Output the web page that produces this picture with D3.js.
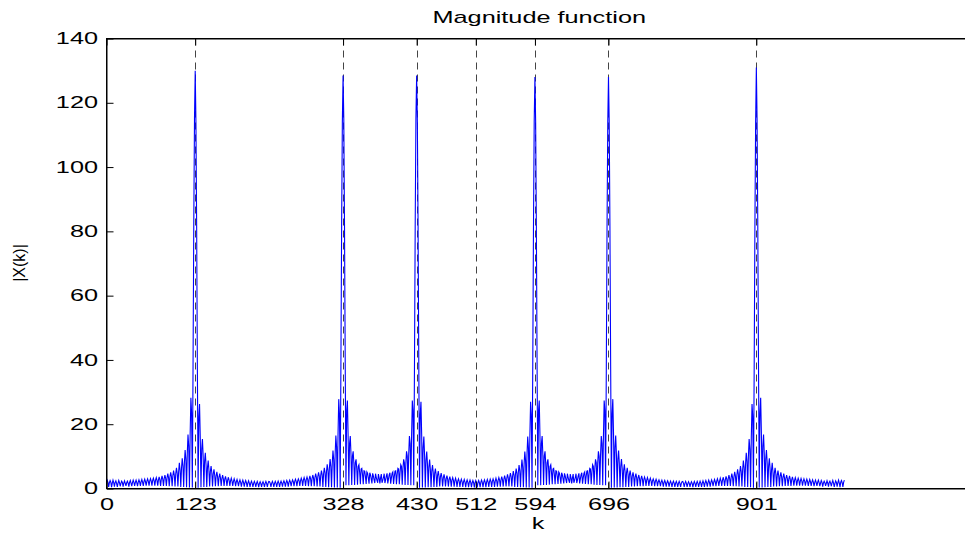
<!DOCTYPE html>
<html>
<head>
<meta charset="utf-8">
<script src="https://cdn.jsdelivr.net/npm/d3@7"></script>
<style>
body{margin:0;background:#fff;}
.canvas{width:965px;height:536px;}
</style>
</head>
<body>
<div class="canvas"></div>
<script>
/* |X(k)| of a 1024 point DFT.
   the peaks are kept apart, seg0 starts at k=0 and every other
   segment starts on the bin right after a peak */
var peakK = [123,328,430,594,696,901];
var peakVal = [130,128.5,128.5,128,128,131];

var seg0 = [2.0,2.6,1.9,0.5,1.8,2.5,2.0,0.4,1.7,2.6,1.8,0.6,1.9,2.4,1.6,0.5,1.7,2.5,1.8,0.7,
    1.6,2.3,1.9,0.6,1.7,2.4,1.6,0.8,1.8,2.3,1.7,0.6,1.9,2.5,1.7,0.7,1.8,2.6,1.9,0.8,
    1.9,2.6,1.8,0.7,2.0,2.7,2.0,0.8,2.1,2.8,2.0,0.8,2.2,2.9,2.1,0.9,2.3,3.0,2.2,0.9,
    2.4,3.1,2.3,0.9,2.5,3.2,2.4,0.9,2.6,3.4,2.5,0.9,2.7,3.6,2.7,0.8,2.9,3.9,2.9,0.8,
    3.1,4.2,3.2,0.8,3.4,4.6,3.4,0.7,3.7,5.0,3.8,0.7,4.0,5.6,4.2,0.6,4.6,6.4,4.8,0.6,
    5.2,8.0,5.7,0.5,6.3,9.4,7.0,0.5,8.0,12.0,9.2,0.4,10.8,16.8,13.1,0.3,17.0,28.2,23.5,0.3,
    38.5,82,115];
var seg1 = [114,81,37.5,0.2,22.3,26.3,15.9,0.4,12.3,15.4,10.1,0.5,8.5,11.1,7.4,0.5,6.5,8.7,5.8,0.6,
    5.3,7.0,4.9,0.6,4.5,6.0,4.2,0.7,3.9,5.2,3.7,0.7,3.5,4.6,3.3,0.8,3.1,4.2,3.0,0.8,
    2.9,3.8,2.7,0.8,2.6,3.5,2.5,0.8,2.4,3.2,2.3,0.8,2.2,3.0,2.2,0.7,2.1,2.8,2.0,0.7,
    2.0,2.7,1.9,0.6,1.9,2.6,1.8,0.6,1.8,2.5,1.8,0.5,1.7,2.4,1.7,0.5,1.7,2.3,1.6,0.5,
    1.6,2.2,1.6,0.5,1.6,2.2,1.5,0.4,1.6,2.1,1.5,0.5,1.6,2.1,1.5,0.5,1.6,2.2,1.6,0.5,1.6,2.2,
    2.1,1.6,0.5,1.6,2.2,1.6,0.5,1.6,2.2,1.6,0.5,1.7,2.3,1.7,0.5,1.7,2.3,1.7,0.6,1.8,
    2.4,1.8,0.6,1.8,2.5,1.9,0.6,1.9,2.6,2.0,0.7,2.0,2.7,2.1,0.7,2.2,2.9,2.2,0.7,2.3,
    3.0,2.4,0.8,2.4,3.2,2.5,0.8,2.6,3.4,2.6,0.8,2.8,3.6,2.8,0.7,2.9,3.9,3.0,0.7,3.1,
    4.2,3.3,0.7,3.4,4.6,3.5,0.6,3.7,5.0,3.9,0.6,4.0,5.6,4.3,0.5,4.6,6.4,4.9,0.5,5.2,
    7.5,5.7,0.4,6.2,9.2,6.9,0.4,7.8,11.8,9.0,0.3,10.6,16.5,12.9,0.3,16.7,27.8,23.2,0.2,38,
    81.5,114];
var seg2 = [115,81.5,38,1.0,24.2,27.4,16.4,1.0,14.0,16.3,10.5,1.1,10.1,11.6,7.7,1.1,8.1,9.1,6.1,1.2,
    6.9,7.4,5.0,1.3,6.1,6.3,4.3,1.3,5.5,5.4,3.7,1.4,5.2,4.8,3.3,1.5,4.9,4.3,3.0,1.6,
    4.7,3.9,2.7,1.7,4.6,3.5,2.5,1.8,4.5,3.3,
    1.6,
    3.3,4.5,1.8,2.5,3.5,4.6,1.7,2.7,3.9,4.7,
    1.6,3.0,4.3,4.9,1.5,3.3,4.8,5.2,1.4,3.7,5.4,5.5,1.3,4.3,6.3,6.1,1.3,5.0,7.4,6.9,
    1.2,6.1,9.1,8.1,1.1,7.7,11.6,10.1,1.1,10.5,16.3,14.0,1.0,16.4,27.4,24.2,1.0,38,81.5,115];
var seg3 = [114,81.5,38,0.2,23.0,27.0,16.4,0.3,12.7,16.2,10.4,0.3,8.8,11.5,7.6,0.4,6.7,9.0,6.0,0.4,
    5.5,7.3,5.0,0.5,4.7,6.2,4.4,0.5,4.1,5.4,3.8,0.6,3.7,4.8,3.5,0.6,3.3,4.4,3.2,0.6,
    3.0,4.0,2.9,0.6,2.8,3.7,2.7,0.6,2.6,3.4,2.5,0.6,2.4,3.2,2.3,0.5,2.3,3.0,2.2,0.5,
    2.2,2.9,2.1,0.5,2.1,2.8,2.0,0.4,2.0,2.7,1.9,0.4,1.9,2.6,1.9,0.4,1.8,2.5,1.8,0.3,1.8,
    2.5,
    1.8,0.3,1.8,2.5,1.8,0.4,1.9,2.6,1.9,0.4,1.9,2.7,2.0,0.4,2.0,2.8,2.1,0.5,2.1,2.9,2.2,
    0.5,2.2,3.0,2.3,0.5,2.3,3.2,2.4,0.6,2.5,3.4,2.6,0.6,2.7,3.7,2.8,0.6,2.9,4.0,3.0,
    0.6,3.2,4.4,3.3,0.6,3.5,4.8,3.7,0.6,3.8,5.4,4.1,0.5,4.4,6.2,4.7,0.5,5.0,7.3,5.5,
    0.4,6.0,9.0,6.7,0.4,7.6,11.5,8.8,0.3,10.4,16.2,12.7,0.3,16.4,27.0,23.0,0.2,38,81.5,114];
var seg4 = [114,81.5,38,1.0,24.2,27.4,16.4,1.0,14.0,16.3,10.5,1.1,10.1,11.6,7.7,1.1,8.1,9.1,6.1,1.2,
    6.9,7.4,5.0,1.3,6.1,6.3,4.3,1.3,5.5,5.4,3.7,1.4,5.2,4.8,3.3,1.5,4.9,4.3,3.0,1.6,
    4.7,3.9,2.7,1.7,4.6,3.5,2.5,1.8,4.5,3.3,
    1.6,
    3.3,4.5,1.8,2.5,3.5,4.6,1.7,2.7,3.9,4.7,
    1.6,3.0,4.3,4.9,1.5,3.3,4.8,5.2,1.4,3.7,5.4,5.5,1.3,4.3,6.3,6.1,1.3,5.0,7.4,6.9,
    1.2,6.1,9.1,8.1,1.1,7.7,11.6,10.1,1.1,10.5,16.3,14.0,1.0,16.4,27.4,24.2,1.0,38,81.5,114];
var seg5 = [114,81.5,
    38,0.2,23.2,27.8,16.7,0.3,12.9,16.5,10.6,0.3,9.0,11.8,7.8,0.4,6.9,9.2,6.2,0.4,5.7,7.5,
    5.2,0.5,4.9,6.4,4.6,0.5,4.3,5.6,4.0,0.6,3.9,5.0,3.7,0.6,3.5,4.6,3.4,0.7,3.3,4.2,
    3.1,0.7,3.0,3.9,2.9,0.7,2.8,3.6,2.8,0.8,2.6,3.4,2.6,0.8,2.5,3.2,2.4,0.8,2.4,3.0,
    2.3,0.7,2.2,2.9,2.2,0.7,2.1,2.7,2.0,0.7,2.0,2.6,1.9,0.6,1.9,2.5,1.8,0.6,1.8,2.4,
    1.8,0.6,1.7,2.3,1.7,0.5,1.7,2.3,1.7,0.5,1.6,2.2,1.6,0.5,1.6,2.2,1.6,0.5,1.6,2.1,
    2.2,1.6,0.5,1.6,2.2,1.6,0.5,1.5,2.1,1.6,0.5,1.5,2.1,1.6,0.4,1.5,2.2,1.6,0.5,1.6,2.2,1.6,
    0.5,1.6,2.3,1.7,0.5,1.7,2.4,1.7,0.5,1.8,2.5,1.8,0.6,1.8,2.6,1.9,0.6,1.9,2.7,2.0,
    0.7,2.0,2.8,2.1,0.7,2.2,3.0,2.2,0.8,2.3,3.2,2.4,0.8,2.5,3.5,2.6,0.8,2.7,3.8,2.9,
    0.8,3.0,4.2,3.1,0.8,3.3,4.6,3.5,0.7,3.7,5.2,3.9,0.7,4.2,6.0,4.5,0.6,4.9,7.0,5.3,
    0.6,5.8,8.7,6.5,0.5,7.4,11.1,8.5,0.5,10.1,15.4,12.3,0.4,15.9,26.3,22.3,0.2,37.5,81,114];
var seg6 = [115,82,38.5,
    0.3,23.5,28.2,17.0,0.3,13.1,16.8,10.8,0.4,9.2,12.0,8.0,0.5,7.0,9.4,6.3,0.5,5.7,8.0,5.2,
    0.6,4.8,6.4,4.6,0.6,4.2,5.6,4.0,0.7,3.8,5.0,3.7,0.7,3.4,4.6,3.4,0.8,3.2,4.2,3.1,
    0.8,2.9,3.9,2.9,0.8,2.7,3.6,2.7,0.9,2.5,3.4,2.6,0.9,2.4,3.2,2.5,0.9,2.3,3.1,2.4,
    0.9,2.2,3.0,2.3,0.9,2.1,2.9,2.2,0.8,2.0,2.8,2.1,0.8,2.0,2.7,2.0,0.7,1.8,2.6,1.9,
    0.8,1.9,2.6,1.8,0.7,1.7,2.5,1.9,0.6,1.7,2.3,1.8,0.8,1.6,2.4,1.7,0.6,1.9,2.3,1.6,
    0.7,1.8,2.5,1.7,0.5,1.6,2.4,1.9,0.6,1.8,2.6,1.7,0.4,2.0,2.5,1.8,0.5,1.9,2.6];

var xTicks = [0,123,328,430,512,594,696,901];
var dashK = [123,328,430,512,594,696,901];
var yTicks = [0,20,40,60,80,100,120,140];

var canvasWidth = 965,
    canvasHeight = 536;
// plot box, the right edge runs just past the window
var box = {l:106.5, r:972, t:38.5, b:488.5};
var stretch = 1.58; // the text in the picture is drawn wide
var font = '"Liberation Sans", Arial, Helvetica, sans-serif';

// put the segments and peaks together on the k axis
var segs = [seg0,seg1,seg2,seg3,seg4,seg5,seg6];
var starts = [0].concat(peakK.map(function(k){ return k+1; }));
var data = [];
segs.forEach(function(s,i){
    s.forEach(function(v,j){ data.push({k:starts[i]+j, v:v}); });
    if(i < peakK.length) data.push({k:peakK[i], v:peakVal[i]});
});
data.sort(function(a,b){ return a.k - b.k; });

var x = d3.scaleLinear().domain([0,1200]).range([box.l, box.r]);
var y = d3.scaleLinear().domain([0,140]).range([box.b, box.t]);

var svg = d3.select('.canvas')
    .append('svg')
    .attr('width',canvasWidth)
    .attr('height',canvasHeight)
    .style('display','block');

svg.append('rect')
    .attr('width',canvasWidth)
    .attr('height',canvasHeight)
    .style('fill','#fff');

// dashed guides at the peaks and at N/2
svg.selectAll('.guide')
    .data(dashK)
    .enter()
    .append('line')
    .attr('class','guide')
    .attr('x1',function(d){ return Math.round(x(d))+0.5; })
    .attr('x2',function(d){ return Math.round(x(d))+0.5; })
    .attr('y1',box.t)
    .attr('y2',box.b)
    .style('stroke','#444')
    .style('stroke-width',1)
    .style('stroke-dasharray','7,5');

var line = d3.line()
    .x(function(d){ return x(d.k); })
    .y(function(d){ return y(d.v); });

svg.append('path')
    .datum(data)
    .attr('d',line)
    .style('fill','none')
    .style('stroke','#0000ff')
    .style('stroke-width',1.1);

// axes, ticks point inwards on all four sides
var tickLen = 7;
var bottom = svg.append('g')
    .attr('transform','translate(0,'+box.b+')')
    .call(d3.axisBottom(x).tickValues(xTicks).tickSizeInner(-tickLen).tickSizeOuter(0).tickPadding(10));
var left = svg.append('g')
    .attr('transform','translate('+box.l+',0)')
    .call(d3.axisLeft(y).tickValues(yTicks).tickSizeInner(-tickLen).tickSizeOuter(0).tickPadding(5.4));
svg.append('g')
    .attr('transform','translate(0,'+box.t+')')
    .call(d3.axisTop(x).tickValues(xTicks).tickSizeInner(-tickLen).tickSizeOuter(0).tickFormat(''));
svg.append('g')
    .attr('transform','translate('+box.r+',0)')
    .call(d3.axisRight(y).tickValues(yTicks).tickSizeInner(-tickLen).tickSizeOuter(0).tickFormat(''));

svg.selectAll('.domain').style('stroke','#000');
svg.selectAll('.tick line').style('stroke','#000');

[bottom,left].forEach(function(g){
    g.selectAll('text')
        .attr('font-size',16)
        .attr('font-family',font)
        .style('fill','#000')
        .attr('transform','scale('+stretch+',1)');
});

svg.append('rect')
    .attr('x',box.l)
    .attr('y',box.t)
    .attr('width',box.r-box.l)
    .attr('height',box.b-box.t)
    .style('fill','none')
    .style('stroke','#000')
    .style('stroke-width',1);

// title and axis labels
svg.append('text')
    .attr('transform','translate('+(box.l+box.r)/2+',23) scale('+stretch+',1)')
    .attr('text-anchor','middle')
    .attr('font-size',16)
    .attr('font-family',font)
    .text('Magnitude function');

svg.append('text')
    .attr('transform','translate(538,529) scale('+stretch+',1)')
    .attr('text-anchor','middle')
    .attr('font-size',16)
    .attr('font-family',font)
    .text('k');

svg.append('text')
    .attr('transform','translate(25,263) rotate(-90)')
    .attr('text-anchor','middle')
    .attr('font-size',16)
    .attr('font-family',font)
    .text('|X(k)|');
</script>
</body>
</html>
